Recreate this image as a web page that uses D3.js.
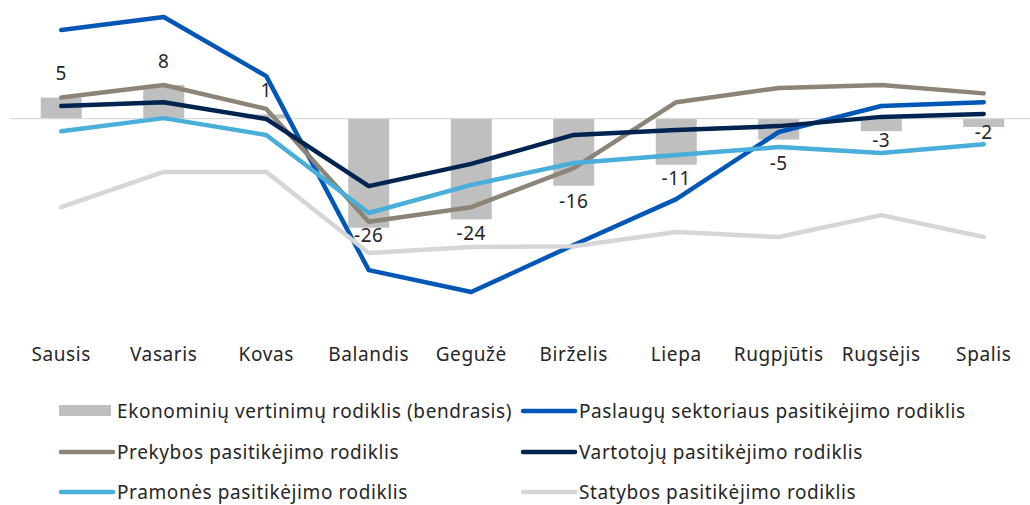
<!DOCTYPE html>
<html>
<head>
<meta charset="utf-8">
<script src="https://cdn.jsdelivr.net/npm/d3@7/dist/d3.min.js"></script>
<style>
  body { margin: 0; background: #fff; }
  svg text { font-family: "Noto Sans", "Open Sans", sans-serif; fill: #262626; letter-spacing: 0.6px; }
</style>
</head>
<body>
<svg class="svg" width="1030" height="505"></svg>
<script>
// data
const months = ['Sausis', 'Vasaris', 'Kovas', 'Balandis', 'Gegužė', 'Birželis', 'Liepa', 'Rugpjūtis', 'Rugsėjis', 'Spalis'];
const ekonominiu = [5, 8, 1, -26, -24, -16, -11, -5, -3, -2];
const paslaugu = [21.1, 24.2, 10.1, -36.1, -41.3, -30.1, -19.2, -3.2, 3.0, 3.9];
const prekybos = [5.0, 8.0, 2.3, -24.6, -21.1, -11.8, 3.9, 7.3, 8.0, 6.0];
const vartotoju = [3.0, 3.9, -0.1, -16.1, -10.8, -3.9, -2.7, -1.8, 0.4, 1.1];
const pramones = [-3.0, 0.1, -3.9, -22.5, -15.8, -10.6, -8.7, -6.8, -8.2, -6.1];
const statybos = [-21.1, -12.7, -12.7, -32.0, -30.6, -30.4, -27.0, -28.2, -23.0, -28.2];
const labelNudge = [0, 0, 0, 8, 14, 16, 14, 24, 9, 5];

const lineSeries = [
  { name: 'Paslaugų sektoriaus pasitikėjimo rodiklis', values: paslaugu, color: '#0057b8' },
  { name: 'Prekybos pasitikėjimo rodiklis', values: prekybos, color: '#8c8477' },
  { name: 'Vartotojų pasitikėjimo rodiklis', values: vartotoju, color: '#00244f' },
  { name: 'Pramonės pasitikėjimo rodiklis', values: pramones, color: '#4aaedb' },
  { name: 'Statybos pasitikėjimo rodiklis', values: statybos, color: '#d6d6d6' }
];

const svg = d3.select('.svg');

const x = d3.scaleBand().domain(months).range([10, 1035]).paddingInner(0.6).paddingOuter(0.3);
const y = d3.scaleLinear().domain([-45, 28]).range([307.5, 1]);
const cx = (i) => x(months[i]) + x.bandwidth() / 2;

// bars
svg.append('g').selectAll('rect')
  .data(ekonominiu)
  .join('rect')
  .attr('x', (d, i) => x(months[i]))
  .attr('width', x.bandwidth())
  .attr('y', (d) => y(Math.max(0, d)))
  .attr('height', (d) => Math.abs(y(d) - y(0)))
  .style('fill', '#bfbfbf');

// zero line
svg.append('line')
  .attr('x1', 10).attr('x2', 1030)
  .attr('y1', y(0)).attr('y2', y(0))
  .style('stroke', '#d9d9d9')
  .style('stroke-width', 1.3);

// lines
const line = d3.line().x((d, i) => cx(i)).y((d) => y(d));
lineSeries.forEach((s) => {
  svg.append('path')
    .attr('d', line(s.values))
    .style('fill', 'none')
    .style('stroke', s.color)
    .style('stroke-width', 4.5)
    .style('stroke-linejoin', 'round')
    .style('stroke-linecap', 'round');
});

// data labels
svg.append('g').selectAll('text')
  .data(ekonominiu)
  .join('text')
  .attr('x', (d, i) => cx(i))
  .attr('y', (d, i) => (d >= 0 ? y(d) - 24 : y(d) + labelNudge[i]))
  .attr('dy', '0.35em')
  .attr('text-anchor', 'middle')
  .style('font-size', '19px')
  .text((d) => d);

// x axis labels
const xAxis = d3.axisBottom(x).tickSize(0).tickPadding(0);
const gx = svg.append('g').attr('transform', 'translate(0,347)').call(xAxis);
gx.select('.domain').remove();
gx.selectAll('text')
  .style('font-size', '19px')
  .style('font-family', '"Noto Sans", "Open Sans", sans-serif')
  .style('letter-spacing', '0.6px')
  .style('fill', '#262626');

// legend
const legendItems = [
  { name: 'Ekonominių vertinimų rodiklis (bendrasis)', color: '#bfbfbf', bar: true }
].concat(lineSeries);
const legendPos = [[59, 411], [521, 411], [59, 452], [521, 452], [59, 492], [521, 492]];
const lg = svg.append('g');
legendItems.forEach((item, i) => {
  const [lx, ly] = legendPos[i];
  if (item.bar) {
    lg.append('rect')
      .attr('x', lx).attr('y', ly - 6)
      .attr('width', 52).attr('height', 11)
      .style('fill', item.color);
  } else {
    lg.append('line')
      .attr('x1', lx + 2).attr('x2', lx + 54)
      .attr('y1', ly).attr('y2', ly)
      .style('stroke', item.color)
      .style('stroke-width', 4.5)
      .style('stroke-linecap', 'round');
  }
  lg.append('text')
    .attr('x', lx + 58)
    .attr('y', ly)
    .attr('dy', '0.35em')
    .style('font-size', '19px')
    .text(item.name);
});
</script>
</body>
</html>
